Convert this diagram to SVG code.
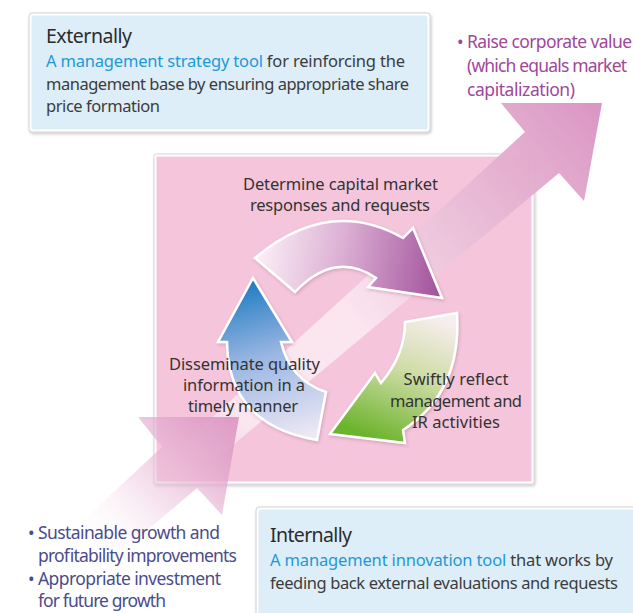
<svg xmlns="http://www.w3.org/2000/svg" width="633" height="613" viewBox="0 0 633 613">
<defs>
<style>
text{font-family:"Noto Sans","Liberation Sans",Arial,sans-serif;}
.head{font-size:19.5px;fill:#2b2b2b;}
.body{font-size:16.5px;fill:#3c3c3c;}
.hl{fill:#1f98d6;}
.cyc{font-size:16.5px;fill:#333333;text-anchor:middle;}
.pur{font-size:17.5px;fill:#a0479a;}
.blu{font-size:17.5px;fill:#4a4c8c;}
.cyca{stroke:#ffffff;stroke-width:2.5;stroke-linejoin:miter;}
</style>
<filter id="sh" x="-10%" y="-10%" width="120%" height="120%">
<feDropShadow dx="1" dy="1.5" stdDeviation="1.5" flood-color="#000" flood-opacity="0.22"/>
</filter>
<filter id="sh2" x="-10%" y="-10%" width="120%" height="120%">
<feDropShadow dx="1" dy="1.5" stdDeviation="1.5" flood-color="#6a2a50" flood-opacity="0.25"/>
</filter>
<linearGradient id="gBig" gradientUnits="userSpaceOnUse" x1="190" y1="460" x2="595" y2="110">
<stop offset="0" stop-color="#ffffff" stop-opacity="0"/>
<stop offset="0.12" stop-color="#ffffff" stop-opacity="0.55"/>
<stop offset="0.4" stop-color="#fdf0f6" stop-opacity="0.75"/>
<stop offset="0.6" stop-color="#edc8de" stop-opacity="0.9"/>
<stop offset="0.8" stop-color="#e4afcf" stop-opacity="0.95"/>
<stop offset="1" stop-color="#db97c4" stop-opacity="1"/>
</linearGradient>
<linearGradient id="gLow" gradientUnits="userSpaceOnUse" x1="95" y1="560" x2="235" y2="420">
<stop offset="0" stop-color="#ffffff" stop-opacity="0"/>
<stop offset="0.45" stop-color="#ecc3dc" stop-opacity="0.5"/>
<stop offset="0.8" stop-color="#e0a2ca" stop-opacity="0.8"/>
<stop offset="1" stop-color="#d98fc0" stop-opacity="0.85"/>
</linearGradient>
<linearGradient id="gTop" gradientUnits="userSpaceOnUse" x1="255" y1="250" x2="442" y2="280">
<stop offset="0" stop-color="#fcf1f7"/>
<stop offset="0.45" stop-color="#dcb0d4"/>
<stop offset="1" stop-color="#a2529c"/>
</linearGradient>
<linearGradient id="gGreen" gradientUnits="userSpaceOnUse" x1="430" y1="315" x2="380" y2="440">
<stop offset="0" stop-color="#f6eeee"/>
<stop offset="0.45" stop-color="#cfdca6"/>
<stop offset="1" stop-color="#6db42e"/>
</linearGradient>
<linearGradient id="gBlue" gradientUnits="userSpaceOnUse" x1="253" y1="280" x2="300" y2="440">
<stop offset="0" stop-color="#1f7cc2"/>
<stop offset="0.45" stop-color="#98b5e2"/>
<stop offset="1" stop-color="#efe9f5"/>
</linearGradient>
</defs>

<g id="external-box">
<rect x="29" y="13" width="401" height="119" rx="3" fill="#ffffff" stroke="#d2d2d2" stroke-width="1" filter="url(#sh)"/>
<rect x="31.5" y="15.5" width="396" height="114" rx="2" fill="#ddeef9"/>
<text class="head" x="46" y="43" textLength="86">Externally</text>
<text class="body" x="46" y="67" textLength="359"><tspan class="hl">A management strategy tool</tspan> for reinforcing the</text>
<text class="body" x="46" y="90" textLength="363">management base by ensuring appropriate share</text>
<text class="body" x="46" y="112" textLength="114">price formation</text>
</g>

<g id="internal-box">
<rect x="256" y="507" width="390" height="120" rx="3" fill="#ffffff" stroke="#d2d2d2" stroke-width="1" filter="url(#sh)"/>
<rect x="258.5" y="509.5" width="385" height="115" rx="2" fill="#ddeef9"/>
<text class="head" x="270" y="542" textLength="82">Internally</text>
<text class="body" x="270" y="566" textLength="343"><tspan class="hl">A management innovation tool</tspan> that works by</text>
<text class="body" x="270" y="589" textLength="348">feeding back external evaluations and requests</text>
</g>

<g id="cycle-box">
<rect x="154" y="154" width="380" height="330" rx="2" fill="#ffffff" stroke="#d4d4d4" stroke-width="1" filter="url(#sh)"/>
<rect x="156.5" y="156.5" width="375" height="325" fill="#f5c6db"/>
</g>

<g id="value-arrow">
<polygon points="170,456 525,132 501,103 602,103 584,201 559,173 215,460" fill="url(#gBig)"/>
</g>

<g id="connectors">
<path class="cyca" fill="url(#gTop)" filter="url(#sh2)" d="M255,258 Q329,196 403,238 L413,228 L442,298 L368,287 L376,278 Q335,250 295,292 Z"/>
<path class="cyca" fill="url(#gGreen)" filter="url(#sh2)" d="M457,313 Q462,392 403,430 L405,443 L330,434 L375,373 L381,383 Q405,355 405,322 Z"/>
<path class="cyca" fill="url(#gBlue)" filter="url(#sh2)" d="M253,278 L292,342 L281,342 Q290,380 326,392 L317,440 Q228,425 227,342 L218,342 Z"/>
</g>

<g id="growth-arrow">
<polygon points="0,598 162,447 138,417 239,417 222,515 197,488 0,655" fill="url(#gLow)"/>
</g>

<g id="step-determine">
<text class="cyc" x="340.5" y="190" textLength="195">Determine capital market</text>
<text class="cyc" x="340" y="211" textLength="180">responses and requests</text>
</g>
<g id="step-reflect">
<text class="cyc" x="456" y="385" textLength="105">Swiftly reflect</text>
<text class="cyc" x="456" y="407" textLength="132">management and</text>
<text class="cyc" x="456" y="428" textLength="88">IR activities</text>
</g>
<g id="step-disseminate">
<text class="cyc" x="244.5" y="370" textLength="151">Disseminate quality</text>
<text class="cyc" x="244" y="391" textLength="122">information in a</text>
<text class="cyc" x="243" y="412" textLength="110">timely manner</text>
</g>

<g id="value-text">
<text class="pur" x="457" y="48">•</text>
<text class="pur" x="467" y="48" textLength="165">Raise corporate value</text>
<text class="pur" x="467" y="72" textLength="160">(which equals market</text>
<text class="pur" x="467" y="96" textLength="108">capitalization)</text>
</g>

<g id="growth-text">
<text class="blu" x="28" y="539">•</text>
<text class="blu" x="38" y="539" textLength="182">Sustainable growth and</text>
<text class="blu" x="38" y="562" textLength="199">profitability improvements</text>
<text class="blu" x="28" y="585">•</text>
<text class="blu" x="38" y="585" textLength="183">Appropriate investment</text>
<text class="blu" x="38" y="607" textLength="128">for future growth</text>
</g>
</svg>
